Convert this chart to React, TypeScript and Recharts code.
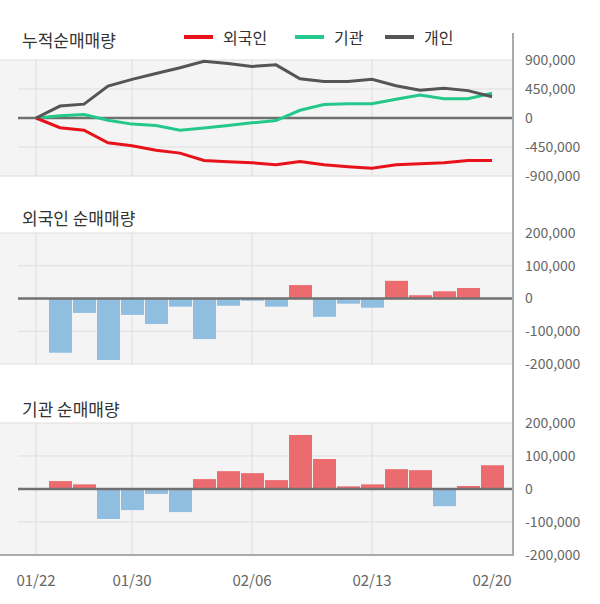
import React from 'react';
import { LineChart, Line, BarChart, Bar, Cell, XAxis, YAxis, CartesianGrid, ReferenceLine } from 'recharts';

const dates = ['01/22', '01/23', '01/28', '01/29', '01/30', '01/31', '02/03', '02/04', '02/05', '02/06',
  '02/07', '02/10', '02/11', '02/12', '02/13', '02/14', '02/17', '02/18', '02/19', '02/20'];
const tickIdx = [0, 4, 9, 14, 19];
const gridIdx = [0, 4, 9, 14];

// 누적 (cumulative)
const foreignCum = [0, -150000, -190000, -385000, -430000, -500000, -545000, -660000, -680000, -695000,
  -725000, -675000, -725000, -755000, -780000, -725000, -710000, -695000, -660000, -660000];
const instCum = [0, 35000, 55000, -35000, -95000, -115000, -190000, -155000, -115000, -75000,
  -40000, 120000, 210000, 220000, 222000, 290000, 355000, 300000, 300000, 385000];
const indivCum = [0, 185000, 215000, 495000, 600000, 690000, 780000, 880000, 845000, 800000,
  825000, 610000, 565000, 565000, 600000, 500000, 430000, 460000, 425000, 330000];

// 일별 순매매량
const foreignDaily = [0, -166000, -44000, -188000, -50000, -78000, -25000, -124000, -22000, -7000,
  -25000, 41000, -56000, -16000, -28000, 54000, 10000, 22000, 32000, 0];
const instDaily = [0, 24000, 14000, -91000, -64000, -15000, -70000, 30000, 54000, 48000,
  27000, 164000, 91000, 8000, 14000, 60000, 57000, -52000, 9000, 72000];

const cumTicks = [-900000, -450000, 0, 450000, 900000];
const dayTicks = [-200000, -100000, 0, 100000, 200000];

const FONT = '"Noto Sans CJK KR", "Noto Sans", sans-serif';
const BG = '#f4f4f4';
const GRID = '#dddddd';
const ZERO = '#707070';
const RED_BAR = '#ec6b6e';
const BLUE_BAR = '#90bee0';

const fmt = (v: number) => v.toLocaleString('en-US');

const lineData = dates.map((d, i) => ({ i, date: d, foreign: foreignCum[i], inst: instCum[i], indiv: indivCum[i] }));
const foreignData = dates.map((d, i) => ({ i, date: d, v: foreignDaily[i] }));
const instData = dates.map((d, i) => ({ i, date: d, v: instDaily[i] }));

const X_DOMAIN: [number, number] = [-1.5, 19.875];
const tickStyle = { fill: '#666', fontSize: 14, fontFamily: FONT };

const title = (text: string, top: number) => (
  <div style={{ position: 'absolute', left: 22, top, fontSize: 17, lineHeight: '20px', color: '#333', fontFamily: FONT }}>
    {text}
  </div>
);

const legendItems = [
  { name: '외국인', color: '#e8121a', x: 184 },
  { name: '기관', color: '#25c88b', x: 295 },
  { name: '개인', color: '#555555', x: 385 },
];

// inner grid lines start a bit right of the plot's left edge, outer ones run full width
const hLine = (p: any) => {
  const top = p.y;
  const bottom = p.y + p.height;
  const edge = Math.abs(p.y1 - top) < 1 || Math.abs(p.y1 - bottom) < 1;
  return <line key={p.key} x1={edge ? p.x1 : p.x1 + 18} y1={p.y1} x2={p.x2} y2={p.y2} stroke={GRID} strokeWidth={1} />;
};
const vLine = (p: any) =>
  p.index >= gridIdx.length ? <g key={p.key} /> :
    <line key={p.key} x1={p.x1} y1={p.y1} x2={p.x2} y2={p.y2} stroke={GRID} strokeWidth={1} />;

const grid = () => (
  <CartesianGrid fill={BG} fillOpacity={1} horizontal={hLine} vertical={vLine} />
);

const zeroLine = () => (
  <ReferenceLine segment={[{ x: -0.75, y: 0 }, { x: X_DOMAIN[1], y: 0 }]} stroke={ZERO} strokeWidth={2.5} />
);

export default function App() {
  return (
    <div style={{ position: 'absolute', left: 0, top: 0, width: 600, height: 604, background: '#fff', fontFamily: FONT }}>
      {title('누적순매매량', 30)}
      {legendItems.map((it) => (
        <div key={it.name} style={{ position: 'absolute', left: it.x, top: 27, height: 20, display: 'flex', alignItems: 'center' }}>
          <div style={{ width: 29, height: 4, background: it.color, marginRight: 10 }} />
          <span style={{ fontSize: 16, color: '#333', lineHeight: '20px' }}>{it.name}</span>
        </div>
      ))}

      <div style={{ position: 'absolute', left: 0, top: 0 }}>
        <LineChart width={600} height={190} data={lineData} margin={{ top: 60, right: 0, bottom: 14, left: 0 }}>
          {grid()}
          <XAxis type="number" dataKey="i" domain={X_DOMAIN} ticks={gridIdx} hide />
          <YAxis orientation="right" width={87} domain={[-900000, 900000]} ticks={cumTicks}
            tickFormatter={fmt} tick={tickStyle} tickLine={false} axisLine={false} tickMargin={6} />
          {zeroLine()}
          <Line type="linear" dataKey="inst" stroke="#25c88b" strokeWidth={3} dot={false} isAnimationActive={false} />
          <Line type="linear" dataKey="foreign" stroke="#e8121a" strokeWidth={3} dot={false} isAnimationActive={false} />
          <Line type="linear" dataKey="indiv" stroke="#555555" strokeWidth={3} dot={false} isAnimationActive={false} />
        </LineChart>
      </div>

      {title('외국인 순매매량', 208)}
      <div style={{ position: 'absolute', left: 0, top: 200 }}>
        <BarChart width={600} height={180} data={foreignData} margin={{ top: 33, right: 0, bottom: 16, left: 0 }}>
          {grid()}
          <XAxis type="number" dataKey="i" domain={X_DOMAIN} ticks={gridIdx} hide />
          <YAxis orientation="right" width={87} domain={[-200000, 200000]} ticks={dayTicks}
            tickFormatter={fmt} tick={tickStyle} tickLine={false} axisLine={false} tickMargin={6} />
          <Bar dataKey="v" barSize={23} isAnimationActive={false}>
            {foreignDaily.map((v, i) => (
              <Cell key={i} fill={v >= 0 ? RED_BAR : BLUE_BAR} />
            ))}
          </Bar>
          {zeroLine()}
        </BarChart>
      </div>

      {title('기관 순매매량', 399)}
      <div style={{ position: 'absolute', left: 0, top: 390 }}>
        <BarChart width={600} height={214} data={instData} margin={{ top: 33, right: 0, bottom: 19, left: 0 }}>
          {grid()}
          <XAxis type="number" dataKey="i" domain={X_DOMAIN} ticks={tickIdx} interval={0}
            tickFormatter={(v: number) => dates[v]} tick={{ ...tickStyle, fontSize: 15 }}
            tickLine={false} axisLine={{ stroke: '#aaaaaa', strokeWidth: 2 }} height={30} tickMargin={14} />
          <YAxis orientation="right" width={87} domain={[-200000, 200000]} ticks={dayTicks}
            tickFormatter={fmt} tick={tickStyle} tickLine={false} axisLine={false} tickMargin={6} />
          <Bar dataKey="v" barSize={23} isAnimationActive={false}>
            {instDaily.map((v, i) => (
              <Cell key={i} fill={v >= 0 ? RED_BAR : BLUE_BAR} />
            ))}
          </Bar>
          {zeroLine()}
        </BarChart>
      </div>

      {/* 오른쪽 축선 */}
      <div style={{ position: 'absolute', left: 512, top: 33, width: 2, height: 523, background: '#aaaaaa' }} />
    </div>
  );
}
